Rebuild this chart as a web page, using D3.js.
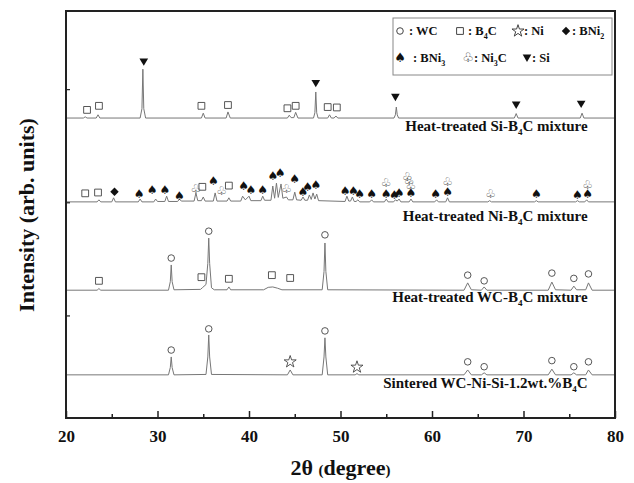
<!DOCTYPE html>
<html><head><meta charset="utf-8">
<script src="https://cdn.jsdelivr.net/npm/d3@7"></script>
<style>body{margin:0;background:#fff}svg{display:block}text{font-family:"Liberation Serif","Times New Roman",serif;font-weight:bold;fill:#111}</style>
</head><body><svg id="c" width="634" height="483"></svg>
<script>
// ---- data: pattern vertices [2theta, intensity(stacked, arb.)] ----
const siB4C = [[20,73.7],[21.9,73.7],[22.1,74.0],[22.3,73.7],[23.3,73.7],[23.5,74.5],[23.7,73.7],[28.1,73.7],[28.3,76],[28.4,85.7],[28.5,76],[28.7,73.7],[34.8,73.7],[35.0,74.9],[35.2,73.7],[37.5,73.7],[37.7,75.2],[37.95,73.7],[44.2,73.7],[44.4,74.4],[44.6,73.8],[44.9,73.8],[45.1,75.1],[45.35,73.7],[47.05,73.7],[47.2,75],[47.3,80.1],[47.4,75],[47.55,73.7],[48.6,73.7],[48.8,74.5],[49.0,73.7],[49.3,73.7],[49.5,74.2],[49.7,73.7],[55.85,73.7],[56.0,74.5],[56.1,76.4],[56.2,74.5],[56.35,73.7],[69.0,73.7],[69.2,74.8],[69.4,73.7],[76.2,73.7],[76.4,74.9],[76.6,73.7],[80,73.7]];
const niB4C = [[20,53.1],[23.4,53.1],[23.6,53.6],[23.8,53.1],[25.0,53.1],[25.2,54.1],[25.4,53.1],[27.9,53.1],[28.1,53.8],[28.3,53.1],[29.6,53.1],[29.8,53.8],[30.0,53.2],[30.8,53.2],[31.0,54.5],[31.2,53.2],[32.2,53.2],[32.4,53.8],[32.6,53.3],[34.0,53.3],[34.2,55.3],[34.4,53.4],[34.8,53.4],[35.0,54.3],[35.2,53.3],[36.1,53.3],[36.3,55.3],[36.5,53.3],[37.6,53.3],[37.8,54.1],[38.0,53.3],[39.1,53.3],[39.3,54.5],[39.6,53.6],[40.0,54.5],[40.2,53.4],[41.3,53.4],[41.5,54.5],[41.7,53.5],[42.4,53.5],[42.6,57.0],[42.8,54.0],[43.0,57.7],[43.2,54.2],[43.5,57.5],[43.7,54.0],[44.1,54.3],[44.3,53.6],[44.8,53.6],[45.0,55.5],[45.2,53.6],[45.7,53.5],[45.9,54.3],[46.1,53.5],[46.4,53.5],[46.6,54.8],[46.8,53.7],[47.0,55.3],[47.2,53.8],[47.4,55.0],[47.6,53.4],[50.5,53.2],[50.7,54.5],[50.9,53.3],[51.1,53.3],[51.3,54.3],[51.5,53.2],[51.7,53.2],[51.9,53.6],[52.1,53.1],[53.2,53.1],[53.4,53.6],[53.6,53.1],[54.8,53.1],[55.0,53.8],[55.2,53.1],[55.8,53.1],[56.0,53.6],[56.2,53.3],[56.4,53.8],[56.6,53.1],[57.5,53.1],[57.7,53.8],[57.9,53.1],[60.3,53.1],[60.5,53.6],[60.7,53.1],[61.5,53.1],[61.7,54.1],[61.9,53.1],[66.1,53.1],[66.3,53.4],[66.5,53.1],[71.2,53.1],[71.4,53.4],[71.6,53.1],[75.7,53.1],[75.9,53.4],[76.1,53.1],[76.7,53.1],[76.9,53.6],[77.1,53.1],[80,53.1]];
const wcB4C = [[20,31.4],[23.4,31.4],[23.6,31.8],[23.8,31.4],[31.2,31.4],[31.4,33.5],[31.5,37.6],[31.6,33.5],[31.8,31.5],[34.7,31.6],[34.9,32.0],[35.3,32.8],[35.5,38],[35.6,44.2],[35.7,38],[35.9,32.0],[36.2,31.5],[37.6,31.5],[37.8,32.2],[38.0,31.5],[41.6,31.5],[42.1,32.1],[42.6,32.2],[43.1,31.9],[43.6,31.5],[48.0,31.5],[48.2,36],[48.3,43.0],[48.4,36],[48.6,31.5],[63.5,31.4],[63.9,33.2],[64.3,31.5],[65.4,31.4],[65.7,32.2],[66.0,31.4],[72.7,31.4],[73.1,33.4],[73.5,31.5],[75.2,31.4],[75.5,32.4],[75.8,31.5],[76.8,31.5],[77.1,33.2],[77.5,31.4],[80,31.4]];
const sintered = [[20,10.6],[31.2,10.6],[31.4,12.4],[31.5,15.0],[31.6,12.4],[31.8,10.6],[35.3,10.7],[35.5,15],[35.6,20.4],[35.7,15],[35.9,10.7],[44.2,10.6],[44.5,11.8],[44.8,10.6],[48.0,10.6],[48.2,15],[48.3,19.7],[48.4,15],[48.6,10.6],[51.6,10.6],[51.8,10.9],[52.0,10.6],[63.5,10.6],[63.9,11.8],[64.3,10.6],[65.4,10.6],[65.7,11.1],[66.0,10.6],[72.7,10.6],[73.1,12.0],[73.5,10.6],[75.2,10.6],[75.5,11.1],[75.8,10.6],[76.8,10.6],[77.1,11.8],[77.5,10.6],[80,10.6]];
const seriesNames = ["Heat-treated Si-B4C mixture","Heat-treated Ni-B4C mixture","Heat-treated WC-B4C mixture","Sintered WC-Ni-Si-1.2wt.%B4C"];
// label anchor [2theta, intensity]
const labelPos = [[77,70.6],[77,48.4],[77,28.5],[77,7.4]];
// ---- phase markers [2theta, intensity] ----
const mWC = [[31.5,39.3],[35.6,45.9],[48.3,45.0],[63.9,35.1],[65.7,33.7],[73.1,35.6],[75.5,34.3],[77.1,35.4],
             [31.5,16.7],[35.6,21.9],[48.3,21.4],[63.9,13.8],[65.7,12.6],[73.1,14.1],[75.5,12.6],[77.1,13.8]];
const mB4C = [[22.3,75.7],[23.6,76.7],[34.8,76.7],[37.7,76.9],[44.2,76.1],[45.1,76.7],[48.6,76.4],[49.6,76.3],
              [22.1,55.2],[23.5,55.4],[34.9,56.8],[37.8,57.1],
              [23.6,33.7],[34.8,34.6],[37.8,34.2],[42.5,35.1],[44.5,34.4]];
const mNi = [[44.5,13.8],[51.8,12.5]];
const mBNi2 = [[25.3,55.6]];
const mBNi3 = [[28.0,55.0],[29.4,56.0],[30.8,56.0],[32.4,54.6],[36.1,58.3],[39.4,57.1],[40.2,56.0],[41.5,56.0],[42.6,59.5],[43.4,60.3],[45.0,58.7],[45.9,55.5],[46.4,56.8],[47.3,57.4],[50.5,55.9],[51.4,55.9],[52.1,55.2],[53.4,55.2],[55.0,55.2],[55.9,54.8],[56.4,55.4],[57.7,55.4],[60.4,55.2],[61.7,55.5],[71.4,55.2],[75.9,54.8],[77.0,55.0]];
const mNi3C = [[34.2,56.4],[37.0,55.8],[44.1,56.4],[55.0,57.8],[57.3,59.3],[57.5,58.2],[57.7,57.2],[61.7,58.1],[66.4,55.2],[77.0,57.4]];
const mSi = [[28.5,87.5],[47.3,82.2],[56.0,78.8],[69.2,76.9],[76.3,77.1]];
const xTicks = [20,30,40,50,60,70,80];
const xMinor = [25,35,45,55,65,75];
const yTicks = [25.2,53,80.8];

const svg = d3.select("#c");
const L=66,R=615,T=11,B=418;
const x = d3.scaleLinear().domain([20,80]).range([L,R]);
const y = d3.scaleLinear().domain([0,100]).range([B,T]);

const line = d3.line().x(d=>x(d[0])).y(d=>y(d[1]));
[siB4C,niB4C,wcB4C,sintered].forEach(s=>{
  svg.append("path").attr("d",line(s)).attr("fill","none").attr("stroke","#777").attr("stroke-width",1);
});

// custom symbol types
const triDown = {draw(ctx,s){const r=Math.sqrt(s)/1.6;ctx.moveTo(-r,-r*0.8);ctx.lineTo(r,-r*0.8);ctx.lineTo(0,r*0.9);ctx.closePath();}};
const diamond = {draw(ctx,s){const r=Math.sqrt(s)/1.5;ctx.moveTo(0,-r);ctx.lineTo(r,0);ctx.lineTo(0,r);ctx.lineTo(-r,0);ctx.closePath();}};

// markers
const g = svg.append("g");
function sym(data, type, size, filled){
  g.selectAll(null).data(data).enter().append("path")
   .attr("transform",d=>`translate(${x(d[0])},${y(d[1])})`)
   .attr("d",d3.symbol().type(type).size(size))
   .attr("fill",filled?"#111":"none").attr("stroke",filled?"none":"#444").attr("stroke-width",filled?0:0.9);
}
sym(mWC, d3.symbolCircle, 34, false);
sym(mB4C, d3.symbolSquare, 46, false);
sym(mNi, d3.symbolStar, 45, false);
sym(mBNi2, diamond, 40, true);
sym(mSi, triDown, 48, true);
function glyph(data, ch, size, col){
  g.selectAll(null).data(data).enter().append("text")
   .attr("x",d=>x(d[0])).attr("y",d=>y(d[1])+size*0.36)
   .attr("text-anchor","middle").style("font-family","DejaVu Sans").style("font-weight","normal")
   .style("font-size",size+"px").style("fill",col).text(ch);
}
glyph(mBNi3,"♠",12,"#111");
glyph(mNi3C,"♧",12,"#444");

// series labels
labelPos.forEach((p,i)=>{
  const t = svg.append("text").attr("x",x(p[0])).attr("y",y(p[1])).attr("text-anchor","end").style("font-size","15px");
  const parts = seriesNames[i].split("B4C");
  t.append("tspan").text(parts[0]+"B");
  t.append("tspan").attr("dy",4).style("font-size","9px").text("4");
  t.append("tspan").attr("dy",-4).text("C"+parts[1]);
});

// frame and axes
svg.append("rect").attr("x",L).attr("y",T).attr("width",R-L).attr("height",B-T).attr("fill","none").attr("stroke","#222").attr("stroke-width",2);
const xa = svg.append("g").attr("transform",`translate(0,${B})`)
  .call(d3.axisBottom(x).tickValues(xTicks).tickSizeInner(-7).tickSizeOuter(0).tickPadding(12).tickFormat(d3.format("d")));
xa.select(".domain").remove();
xa.selectAll("line").attr("stroke","#222").attr("stroke-width",1.5);
xa.selectAll("text").style("font-size","17px").style("font-family","Liberation Serif").style("font-weight","bold").attr("fill","#111");
const xm = svg.append("g").attr("transform",`translate(0,${B})`)
  .call(d3.axisBottom(x).tickValues(xMinor).tickSizeInner(-4).tickSizeOuter(0).tickFormat(""));
xm.select(".domain").remove();
xm.selectAll("line").attr("stroke","#222").attr("stroke-width",1.5);
const ya = svg.append("g").attr("transform",`translate(${L},0)`)
  .call(d3.axisLeft(y).tickValues(yTicks).tickSizeInner(-4).tickSizeOuter(0).tickFormat(""));
ya.select(".domain").remove();
ya.selectAll("line").attr("stroke","#222").attr("stroke-width",1.2);

// axis titles
const xt = svg.append("text").attr("x",(L+R)/2).attr("y",475).attr("text-anchor","middle").style("font-size","22px");
xt.append("tspan").text("2θ ");
xt.append("tspan").style("font-size","15px").text("(");
xt.append("tspan").text("degree");
xt.append("tspan").style("font-size","15px").text(")");
svg.append("text").attr("transform","translate(34,215) rotate(-90)").attr("text-anchor","middle").style("font-size","22px").text("Intensity (arb. units)");

// legend
svg.append("rect").attr("x",393).attr("y",18).attr("width",219).attr("height",57).attr("fill","#fff").attr("stroke","#888").attr("stroke-width",1);
const lg = svg.append("g");
function legSym(px,py,type,size,filled){
  lg.append("path").attr("transform",`translate(${px},${py})`).attr("d",d3.symbol().type(type).size(size))
    .attr("fill",filled?"#111":"none").attr("stroke",filled?"none":"#444");
}
function legText(px,py,parts){
  const t=lg.append("text").attr("x",px).attr("y",py).style("font-size","12.5px");
  parts.forEach(p=>{ const s=t.append("tspan").text(p[0]); if(p[1]) s.attr("dy",p[1]).style("font-size",p[2]||"12.5px"); });
}
function legGlyph(px,py,ch,col){
  lg.append("text").attr("x",px).attr("y",py).attr("text-anchor","middle").style("font-family","DejaVu Sans").style("font-weight","normal").style("font-size","13px").style("fill",col).text(ch);
}
legSym(400,31,d3.symbolCircle,34,false); legText(409,35,[[": WC"]]);
legSym(460,31,d3.symbolSquare,46,false); legText(468,35,[[": B"],["4",4,"8px"],["C",-4]]);
legSym(518,31,d3.symbolStar,45,false); legText(524,35,[[": Ni"]]);
legSym(566,31,diamond,40,true); legText(572,35,[[": BNi"],["2",4,"8px"]]);
legGlyph(400,62,"♠","#111"); legText(413,62,[[": BNi"],["3",4,"8px"]]);
legGlyph(468,62,"♧","#444"); legText(474,62,[[": Ni"],["3",4,"8px"],["C",-4]]);
legSym(527,58,triDown,48,true); legText(532,62,[[": Si"]]);
</script></body></html>
